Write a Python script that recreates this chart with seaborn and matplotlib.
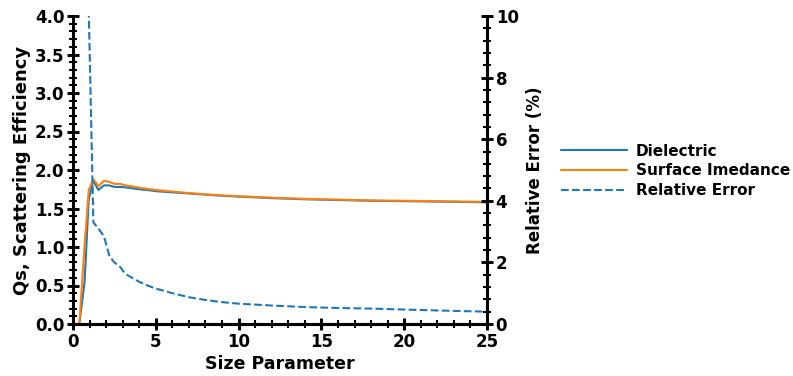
import matplotlib
matplotlib.use("Agg")
import matplotlib.pyplot as plt
import seaborn as sns
import numpy as np
import pandas as pd
from matplotlib.ticker import MultipleLocator

# ---- data ----
size_param = [0.0, 0.38, 0.7, 0.95, 1.23, 1.53, 1.87, 2.2, 2.5, 2.85, 3.15, 3.5,
              4.0, 4.5, 5.0, 6.0, 7.0, 8.0, 9.0, 10.0, 12.0, 14.0, 16.0, 18.0,
              20.0, 22.0, 25.0]
qs_dielectric = [0.0, 0.0, 0.55, 1.62, 1.86, 1.74, 1.80, 1.80, 1.78, 1.78, 1.775, 1.765,
                 1.75, 1.74, 1.725, 1.71, 1.695, 1.68, 1.665, 1.655, 1.635, 1.62, 1.61,
                 1.60, 1.595, 1.59, 1.58]
qs_surface = [0.0, 0.0, 1.02, 1.74, 1.88, 1.79, 1.86, 1.845, 1.82, 1.82, 1.80, 1.79,
              1.77, 1.755, 1.74, 1.72, 1.70, 1.685, 1.67, 1.66, 1.64, 1.625, 1.615,
              1.605, 1.60, 1.595, 1.585]
rel_error = [np.nan, np.nan, np.nan, 10.2, 3.3, 3.1, 2.85, 2.2, 2.0, 1.85, 1.63, 1.52,
             1.37, 1.25, 1.15, 1.0, 0.87, 0.78, 0.71, 0.66, 0.60, 0.55, 0.52, 0.50,
             0.47, 0.44, 0.40]
series_labels = ["Dielectric", "Surface Imedance", "Relative Error"]

df = pd.DataFrame({"x": size_param, "diel": qs_dielectric,
                   "surf": qs_surface, "err": rel_error})

sns.set_style("ticks")
plt.rcParams["font.family"] = ["DejaVu Sans"]
plt.rcParams["font.weight"] = "bold"
for k in ("text.color", "axes.labelcolor", "xtick.color", "ytick.color",
          "axes.edgecolor"):
    plt.rcParams[k] = "black"

blue = "#1f77b4"
orange = "#ff7f0e"

fig = plt.figure(figsize=(7.93, 3.76), dpi=100)
ax = fig.add_axes([73 / 793, 1 - 324 / 376, (487 - 73) / 793, (324 - 16) / 376])
ax2 = ax.twinx()

sns.lineplot(data=df, x="x", y="diel", ax=ax, color=blue, lw=1.5,
             label=series_labels[0])
sns.lineplot(data=df, x="x", y="surf", ax=ax, color=orange, lw=1.5,
             label=series_labels[1])
sns.lineplot(data=df.dropna(), x="x", y="err", ax=ax2, color=blue, lw=1.5,
             linestyle="--", label=series_labels[2])

ax.set_xlim(0, 25)
ax.set_ylim(0, 4)
ax2.set_ylim(0, 10)

ax.xaxis.set_major_locator(MultipleLocator(5))
ax.xaxis.set_minor_locator(MultipleLocator(1))
ax.yaxis.set_major_locator(MultipleLocator(0.5))
ax.yaxis.set_minor_locator(MultipleLocator(0.1))
ax2.yaxis.set_major_locator(MultipleLocator(2))
ax2.yaxis.set_minor_locator(MultipleLocator(0.4))
ax.yaxis.set_major_formatter(matplotlib.ticker.FormatStrFormatter("%.1f"))

for a in (ax, ax2):
    a.spines["top"].set_visible(False)
    for s in a.spines.values():
        s.set_linewidth(2.2)
        s.set_color("black")
    a.tick_params(which="major", direction="inout", length=8.6, width=2.1,
                  labelsize=12, pad=2, colors="black")
    a.tick_params(which="minor", direction="inout", length=5.8, width=1.5,
                  colors="black")
    for lab in a.get_xticklabels() + a.get_yticklabels():
        lab.set_fontweight("bold")
ax2.spines["left"].set_visible(False)
ax.spines["right"].set_visible(False)

ax.set_xlabel("Size Parameter", fontsize=12.5, fontweight="bold", labelpad=3)
ax.set_ylabel("Qs, Scattering Efficiency", fontsize=13, fontweight="bold", labelpad=3)
ax2.set_ylabel("Relative Error (%)", fontsize=12, fontweight="bold", labelpad=5)

h1, l1 = ax.get_legend_handles_labels()
h2, l2 = ax2.get_legend_handles_labels()
ax.get_legend().remove()
ax2.get_legend().remove()
fig.legend(h1 + h2, l1 + l2, loc="center left",
           bbox_to_anchor=(561 / 793, 1 - 171 / 376), frameon=False,
           borderpad=0, borderaxespad=0, handlelength=4.3, handletextpad=0.59,
           labelspacing=0.32, prop={"size": 11, "weight": "bold"})

fig.savefig("out.png", dpi=100)
